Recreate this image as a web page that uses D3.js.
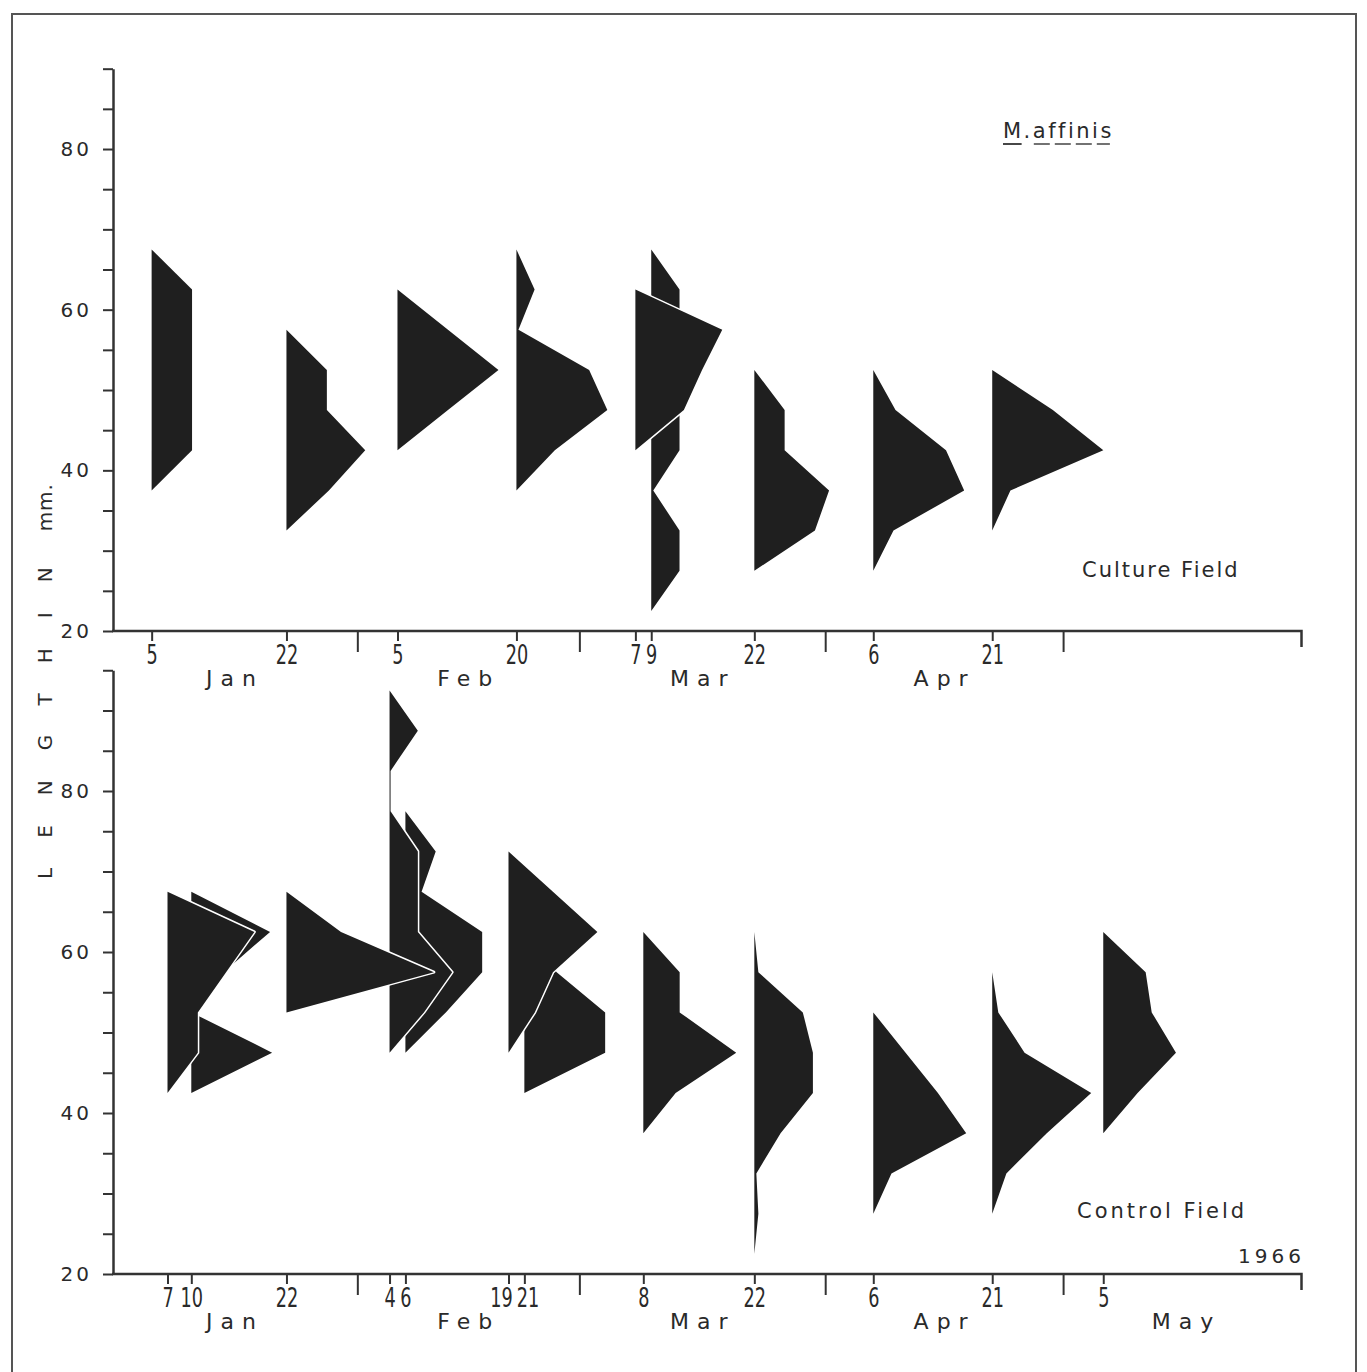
<!DOCTYPE html>
<html>
<head>
<meta charset="utf-8">
<script src="https://cdn.jsdelivr.net/npm/d3@7"></script>
<style>
  body { margin: 0; background: #fff; }
  text { font-family: "DejaVu Sans", sans-serif; fill: #2a2a2a; }
</style>
</head>
<body>
<div id="chart"></div>
<script>
"use strict";
// length classes are 5 mm wide, polygon vertices sit on class mid points
const classStep = 5

// Culture field samples: first class mid point, then % frequency going up in length
const cultureDates = ["1966-01-05","1966-01-22","1966-02-05","1966-02-20","1966-03-07","1966-03-09","1966-03-22","1966-04-06","1966-04-21"]
const cultureFrom = [37.5, 32.5, 42.5, 37.5, 42.5, 22.5, 27.5, 27.5, 32.5]
const cultureFreq = [
  [0,20,20,20,20,20,0],
  [0,21,39,20,20,0],
  [0,25,50,25,0],
  [0,19,45,36,1,9,0],
  [0,24,33,43,0],
  [0,14,14,1,14,14,14,14,14,0],
  [0,30,37,15,15,0],
  [0,10,45,36,11,0],
  [0,9,55,30,0]
]

// Control field samples
const controlDates = ["1966-01-07","1966-01-10","1966-01-22","1966-02-04","1966-02-06","1966-02-19","1966-02-21","1966-03-08","1966-03-22","1966-04-06","1966-04-21","1966-05-05"]
const controlFrom = [42.5, 42.5, 52.5, 47.5, 47.5, 47.5, 42.5, 37.5, 22.5, 27.5, 27.5, 37.5]
const controlFreq = [
  [0,15,15,29,43,0],
  [0,40,0,16,39,0],
  [0,73,27,0],
  [0,17,31,14,14,14,0.5,0.5,14,0],
  [0,20,38,38,8,15,0],
  [0,13,22,44,22,0],
  [0,40,40,16,0],
  [0,16,46,18,18,0],
  [0,2,1,13,29,29,24,2,0],
  [0,9,46,32,16,0],
  [0,7,27,49,16,3,0],
  [0,17,36,24,21,0]
]

const monthsTop = ["Jan","Feb","Mar","Apr"]
const monthsBottom = ["Jan","Feb","Mar","Apr","May"]
const lengthTicks = [20, 40, 60, 80]

const m = { width: 1367, height: 1372 }
const parse = d3.timeParse("%Y-%m-%d")
const fmtDay = d3.timeFormat("%-d")
const ink = "#333"
const squeeze = 0.68   // narrow lettering of the date numbers

const svg = d3.select("#chart").append("svg")
    .attr("width", m.width)
    .attr("height", m.height)

// page frame of the scanned figure
svg.append("rect")
    .attr("x", 12).attr("y", 14)
    .attr("width", 1344).attr("height", 1400)
    .attr("fill", "none").attr("stroke", "#555").attr("stroke-width", 2)

// a sampling day is drawn at the end of that day
const x = d3.scaleTime()
    .domain([new Date(1966,0,1), new Date(1966,5,1)])
    .range([112, 112 + 151*7.93])
const axisEnd = new Date(1966,4,31)
const wScale = d3.scaleLinear().domain([0, 100]).range([0, 202])

const panels = [
  { dates: cultureDates, from: cultureFrom, freq: cultureFreq, months: monthsTop,
    top: 90, y0: 631, pxPerMm: 8.033, label: "Culture Field", lx: 1082, ly: 577, ls: 2 },
  { dates: controlDates, from: controlFrom, freq: controlFreq, months: monthsBottom,
    top: 95, y0: 1274, pxPerMm: 8.05, label: "Control Field", lx: 1077, ly: 1218, ls: 3 }
]

panels.forEach(drawPanel)

function drawPanel(p) {
  const y = d3.scaleLinear()
      .domain([20, p.top])
      .range([p.y0, p.y0 - (p.top - 20)*p.pxPerMm])
  const g = svg.append("g")

  // length axis
  const ya = g.append("g")
      .attr("transform", "translate(113,0)")
      .call(d3.axisLeft(y)
        .tickValues(d3.range(20, p.top + 1, 5))
        .tickSize(10).tickSizeOuter(0).tickPadding(11)
        .tickFormat(d => lengthTicks.includes(d) ? d : ""))
  ya.select(".domain").attr("stroke", ink).attr("stroke-width", 2.5)
  ya.selectAll(".tick line").attr("stroke", ink).attr("stroke-width", 2)
  ya.selectAll(".tick text")
      .attr("font-size", 20).attr("fill", "#2a2a2a")
      .style("letter-spacing", "3px")
      .attr("font-family", "DejaVu Sans")

  // date axis
  const sampleDays = p.dates.map(d => d3.timeDay.offset(parse(d), 1))
  const xa = g.append("g")
      .attr("transform", "translate(0," + p.y0 + ")")
      .call(d3.axisBottom(x)
        .tickValues(sampleDays)
        .tickSize(10).tickSizeOuter(0)
        .tickFormat(d => fmtDay(d3.timeDay.offset(d, -1))))
  xa.select(".domain")
      .attr("d", "M" + x.range()[0] + ",0H" + x(axisEnd) + "V16")
      .attr("stroke", ink).attr("stroke-width", 2.5).attr("fill", "none")
  xa.selectAll(".tick line").attr("stroke", ink).attr("stroke-width", 2)
  xa.selectAll(".tick text")
      .attr("font-size", 26).attr("font-family", "DejaVu Sans")
      .attr("fill", "#2a2a2a")
      .attr("y", 33).attr("dy", 0)
      .attr("transform", "scale(" + squeeze + ",1)")

  // push apart date numbers that sit too close (19 21)
  const labels = xa.selectAll(".tick text").nodes()
  for (let n = 1; n < labels.length; n++) {
    const a = labels[n-1], b = labels[n]
    const wa = a.getComputedTextLength()*squeeze, wb = b.getComputedTextLength()*squeeze
    const xa0 = x(d3.select(a.parentNode).datum()), xb0 = x(d3.select(b.parentNode).datum())
    const overlap = (xa0 + wa/2 + 4) - (xb0 - wb/2)
    if (overlap > 0) {
      d3.select(a).attr("dx", -overlap*0.7/squeeze)
      d3.select(b).attr("dx", overlap*0.3/squeeze)
    }
  }

  // month boundaries
  const bounds = d3.timeMonths(new Date(1966,1,1), new Date(1966,4,2))
  xa.selectAll(".mtick")
      .data(bounds)
      .enter()
      .append("line")
      .attr("x1", d => x(d)).attr("x2", d => x(d))
      .attr("y1", 0).attr("y2", 21)
      .attr("stroke", ink).attr("stroke-width", 2)

  xa.selectAll(".month")
      .data(p.months)
      .enter()
      .append("text")
      .attr("x", (d, i) => (x(new Date(1966, i, 1)) + x(new Date(1966, i + 1, 1)))/2)
      .attr("y", 55)
      .attr("text-anchor", "middle")
      .attr("font-size", 22)
      .style("letter-spacing", "8px")
      .text(d => d)

  // length-frequency polygons, later samples go underneath
  const order = d3.range(p.dates.length).sort((a, b) => d3.descending(p.dates[a], p.dates[b]))
  order.forEach(i => {
    const x0 = x(d3.timeDay.offset(parse(p.dates[i]), 1))
    const pts = p.freq[i].map((f, k) => [x0 + wScale(f), y(p.from[i] + k*classStep)])
    const d = d3.line()(pts) + "Z"
    const k = g.append("g")
    k.append("path")
        .attr("d", d)
        .attr("fill", "none")
        .attr("stroke", "#fff")
        .attr("stroke-width", 3)
        .attr("stroke-linejoin", "round")
    k.append("path")
        .attr("d", d)
        .attr("fill", "#1f1f1f")
  })

  g.append("text")
      .attr("x", p.lx).attr("y", p.ly)
      .attr("font-size", 21)
      .style("letter-spacing", p.ls + "px")
      .text(p.label)
}

// species name, underlined as in the original lettering
const sp = svg.append("text")
    .attr("x", 1003).attr("y", 138)
    .attr("font-size", 21)
    .style("letter-spacing", "2.5px")
    .text("M.affinis")
const spNode = sp.node()
const mW = spNode.getSubStringLength(0, 1)
const aStart = spNode.getSubStringLength(0, 2)
const total = spNode.getComputedTextLength()
svg.append("line")
    .attr("x1", 1003).attr("x2", 1003 + mW - 2)
    .attr("y1", 144).attr("y2", 144)
    .attr("stroke", "#333").attr("stroke-width", 1.8)
svg.append("line")
    .attr("x1", 1003 + aStart + 1).attr("x2", 1003 + total - 4)
    .attr("y1", 144).attr("y2", 144)
    .attr("stroke", "#444").attr("stroke-width", 1.5)
    .attr("stroke-dasharray", "16,5")

svg.append("text")
    .attr("x", 1305).attr("y", 1263)
    .attr("text-anchor", "end")
    .attr("font-size", 20)
    .style("letter-spacing", "4px")
    .text("1966")

// shared y title
const yt = svg.append("text")
    .attr("transform", "translate(52,879)rotate(-90)")
    .attr("font-size", 20)
yt.append("tspan").style("letter-spacing", "30px").text("LENGTHIN")
yt.append("tspan").attr("dx", 6).style("letter-spacing", "1px").text("mm.")
</script>
</body>
</html>
